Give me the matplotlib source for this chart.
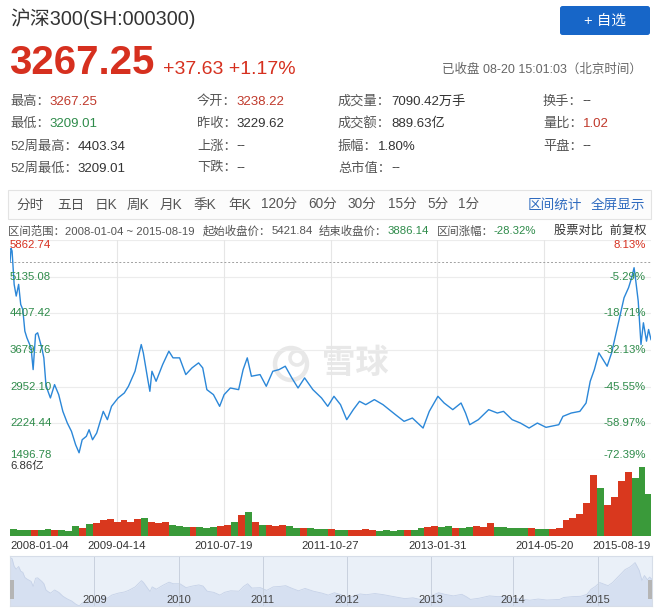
import numpy as np
import matplotlib.pyplot as plt
from matplotlib.patches import Rectangle, FancyBboxPatch, Circle
from matplotlib.transforms import IdentityTransform

plt.rcParams['font.family'] = ['Liberation Sans', 'Noto Sans CJK SC', 'DejaVu Sans']

W, H = 662, 611

# ---- quote header ----
name = "沪深300(SH:000300)"
last_price = "3267.25"
change = "+37.63 +1.17%"
status = "已收盘 08-20 15:01:03（北京时间）"

stat_labels = [["最高：", "最低：", "52周最高：", "52周最低："],
               ["今开：", "昨收：", "上涨：", "下跌："],
               ["成交量：", "成交额：", "振幅：", "总市值："],
               ["换手：", "量比：", "平盘："]]
stat_values = [["3267.25", "3209.01", "4403.34", "3209.01"],
               ["3238.22", "3229.62", "--", "--"],
               ["7090.42万手", "889.63亿", "1.80%", "--"],
               ["--", "1.02", "--"]]
stat_tone = [["up", "down", "", ""],
             ["up", "", "", ""],
             ["", "", "", ""],
             ["", "up", ""]]

periods = ["分时", "五日", "日K", "周K", "月K", "季K", "年K",
           "120分", "60分", "30分", "15分", "5分", "1分"]

range_start = "2008-01-04"
range_end = "2015-08-19"
start_close = 5421.84
end_close = 3886.14

# ---- daily close (trading-day index, close) ----
day = [0, 3, 6, 12, 18, 25, 31, 37, 43, 49, 61, 67, 74, 80, 92, 98, 104, 110,
       117, 129, 141, 153, 166, 178, 190, 200, 209, 221, 229, 239, 251, 270,
       282, 294, 313, 331, 343, 362, 380, 386, 399, 405, 411, 423, 442, 460,
       472, 491, 509, 527, 546, 558, 570, 589, 607, 620, 638, 662, 675, 687,
       699, 724, 742, 761, 779, 797, 816, 834, 853, 877, 902, 920, 938, 957,
       975, 994, 1012, 1030, 1055, 1080, 1098, 1116, 1141, 1165, 1196, 1214,
       1239, 1257, 1282, 1306, 1319, 1331, 1356, 1386, 1411, 1429, 1454, 1478,
       1503, 1527, 1552, 1589, 1601, 1625, 1650, 1668, 1680, 1692, 1705, 1717,
       1729, 1742, 1754, 1766, 1778, 1791, 1800, 1807, 1812, 1819, 1827, 1834,
       1843, 1849, 1856]
close = [5421.84, 5697, 5645, 4982, 4750, 4982, 4584, 4485, 4054, 3921, 3722,
         3291, 3988, 4021, 3722, 3524, 2993, 2860, 2728, 2993, 2794, 2462,
         2230, 2065, 1800, 1640, 1899, 1966, 2098, 1899, 2032, 2462, 2297,
         2562, 2728, 2827, 2960, 3258, 3788, 3623, 3092, 2860, 3258, 3059,
         3391, 3656, 3524, 3524, 3192, 3325, 3424, 3325, 2893, 2794, 2562,
         2794, 2926, 2893, 3291, 3524, 3159, 3192, 2960, 3258, 3291, 3358,
         3126, 2926, 3126, 2893, 2728, 2562, 2761, 2595, 2297, 2496, 2661,
         2595, 2695, 2595, 2496, 2397, 2264, 2330, 2131, 2462, 2761, 2628,
         2496, 2628, 2429, 2197, 2297, 2496, 2429, 2462, 2297, 2230, 2131,
         2230, 2145, 2197, 2363, 2429, 2462, 2628, 3059, 3291, 3623, 3491,
         3358, 3623, 3988, 4352, 4717, 4916, 5114, 5313, 5048, 4650, 3788,
         4220, 3855, 4087, 3886.14]

# volume (亿), one value per 20 trading days
volume = [0.6, 0.55, 0.5, 0.55, 0.5, 0.6, 0.55, 0.5, 0.45, 0.9, 0.7, 1.1, 1.2,
          1.4, 1.5, 1.3, 1.4, 1.3, 1.5, 1.6, 1.3, 1.2, 1.3, 1.0, 0.9, 0.85,
          0.8, 0.8, 0.75, 0.8, 0.9, 1.0, 1.3, 1.9, 2.2, 1.3, 1.0, 0.95, 0.9,
          1.0, 0.9, 0.75, 0.7, 0.7, 0.65, 0.65, 0.6, 0.5, 0.5, 0.55, 0.5, 0.6,
          0.5, 0.45, 0.5, 0.45, 0.5, 0.55, 0.5, 0.7, 0.85, 0.9, 0.8, 0.9, 0.7,
          0.75, 0.8, 0.9, 0.85, 1.2, 0.8, 0.85, 0.75, 0.7, 0.75, 0.7, 0.65,
          0.6, 0.6, 0.7, 1.4, 1.6, 2.0, 3.0, 5.5, 4.3, 2.8, 3.5, 5.0, 5.8, 5.2,
          6.2, 3.8]
vol_max = 6.86

price_low, price_high = 1496.78, 5862.74
date_ticks = ["2008-01-04", "2009-04-14", "2010-07-19", "2011-10-27",
              "2013-01-31", "2014-05-20", "2015-08-19"]
years = ["2009", "2010", "2011", "2012", "2013", "2014", "2015"]
year_day = [244, 488, 730, 974, 1217, 1455, 1700]

RED = '#d6301f'
DRED = '#c0392b'
GREEN = '#2e8b4a'
BLUE = '#2b87d8'
GRAY = '#555555'
DARK = '#333333'

fig = plt.figure(figsize=(W / 100, H / 100), dpi=100)
renderer = fig.canvas.get_renderer()


def fpos(x, y):
    return x / W, 1 - y / H


def run_text(x, y, parts, size, **kw):
    for s, c in parts:
        t = fig.text(*fpos(x, y), s, color=c, fontsize=size, va='center', ha='left', **kw)
        x += t.get_window_extent(renderer=renderer).width
    return x


# header
fig.text(*fpos(10, 19), name, fontsize=14.3, color=DARK, va='center')
fig.text(*fpos(9, 63), last_price, fontsize=29, color=RED, fontweight='bold', va='center')
fig.text(*fpos(163, 69), change, fontsize=14, color=RED, va='center')
fig.patches.append(FancyBboxPatch(fpos(560, 35), 90 / W, 29 / H,
                                  boxstyle='round,pad=0,rounding_size=0.004',
                                  transform=fig.transFigure, fc='#1766c8', ec='none'))
fig.text(*fpos(605, 21), "+ 自选", fontsize=10.5, color='white', ha='center', va='center')
fig.text(*fpos(642, 70), status, fontsize=9, color='#666666', ha='right', va='center')

# stats grid
col_x = [10, 197, 338, 543]
row_y = [101.5, 124, 146.5, 168.5]
tone_color = {"up": DRED, "down": GREEN, "": DARK}
for ci, (labs, vals, tones) in enumerate(zip(stat_labels, stat_values, stat_tone)):
    for ri, (lab, val, tone) in enumerate(zip(labs, vals, tones)):
        run_text(col_x[ci], row_y[ri], [(lab, GRAY), (val, tone_color[tone])], 9.5)

# toolbar
fig.patches.append(Rectangle(fpos(8, 219), 643 / W, 29 / H, transform=fig.transFigure,
                             fc='#fcfcfc', ec='#e3e3e3', lw=0.8))
period_x = [16, 57, 95, 127, 160, 193, 228, 261, 308, 347, 388, 427, 458]
for px_, lab in zip(period_x, periods):
    fig.text(*fpos(px_, 205), lab, fontsize=9.8, color=GRAY, va='center')
fig.text(*fpos(528, 205), "区间统计", fontsize=9.8, color='#2f6bbf', va='center')
fig.text(*fpos(591, 205), "全屏显示", fontsize=9.8, color='#2f6bbf', va='center')

# range info line
pct = (end_close / start_close - 1) * 100
run_text(8, 231, [("区间范围：" + range_start + " ~ " + range_end, GRAY)], 8.2)
run_text(203, 231, [("起始收盘价：", GRAY), (f"{start_close:.2f}", GRAY)], 8.2)
run_text(319, 231, [("结束收盘价：", GRAY), (f"{end_close:.2f}", GREEN)], 8.2)
run_text(437, 231, [("区间涨幅：", GRAY), (f"{pct:.2f}%", GREEN)], 8.2)
fig.text(*fpos(646, 231), "股票对比  前复权", fontsize=8.8, color=DARK, ha='right', va='center')

# ---- main chart ----
n_days = day[-1]
xt = np.linspace(0, n_days, 7)

ax = fig.add_axes([10 / W, 1 - 460 / H, 641 / W, 220 / H])
ax.set_facecolor('none')
ax.set_zorder(2)
ax.set_xlim(0, n_days)
ax.set_ylim(price_low, price_high)
yt = np.linspace(price_low, price_high, 7)
for v in yt:
    ax.axhline(v, color='#ececec', lw=0.8, zorder=0)
for v in xt[1:-1]:
    ax.axvline(v, color='#e6e6e6', lw=0.8, zorder=0)
ax.axhline(start_close, color='#a0a0a0', lw=0.7, ls=(0, (2, 2)), zorder=1)
ax.plot(day, close, color=BLUE, lw=1.0, zorder=3)
for spine in ax.spines.values():
    spine.set_visible(False)
ax.set_xticks([])
ax.set_yticks([])

for i, v in enumerate(yt):
    va = 'top' if i == 6 else ('bottom' if i == 0 else 'center')
    col = RED if i == 6 else GREEN
    ax.text(0.0, v, f"{v:.2f}", transform=ax.get_yaxis_transform(), fontsize=8.2,
            color=col, ha='left', va=va, zorder=4)
    ax.text(0.992, v, f"{(v / start_close - 1) * 100:.2f}%", transform=ax.get_yaxis_transform(),
            fontsize=8.2, color=col, ha='right', va=va, zorder=4)

# watermark
fig.patches.append(Circle((291, H - 364), 16, transform=IdentityTransform(),
                          fill=False, ec='#e8e8e8', lw=3.2, zorder=0))
fig.patches.append(Circle((297, H - 358), 7, transform=IdentityTransform(),
                          fill=False, ec='#e8e8e8', lw=2.6, zorder=0))
fig.text(*fpos(355, 364), "雪球", fontsize=24, color='#e8e8e8', ha='center', va='center',
         fontweight='bold', zorder=0)

# volume
axv = fig.add_axes([10 / W, 1 - 536 / H, 641 / W, 76 / H])
axv.set_facecolor('none')
axv.set_xlim(0, n_days)
axv.set_ylim(0, vol_max)
for v in xt[1:-1]:
    axv.axvline(v, color='#e6e6e6', lw=0.8, zorder=0)
bin_start = np.arange(len(volume)) * 20
bin_end = np.minimum(bin_start + 20, n_days)
up = np.interp(bin_end, day, close) >= np.interp(bin_start, day, close)
colors = np.where(up, '#d9381e', '#3a9a3a')
axv.bar(bin_start, volume, width=bin_end - bin_start, align='edge', color=colors, lw=0)
for spine in axv.spines.values():
    spine.set_visible(False)
axv.set_xticks([])
axv.set_yticks([])
fig.text(*fpos(10, 466), f"{vol_max:.2f}亿", fontsize=8.2, color=DARK, va='center')

for i, (v, lab) in enumerate(zip(xt, date_ticks)):
    ha = 'left' if i == 0 else ('right' if i == 6 else 'center')
    x_px = 10 + v / n_days * 641
    fig.text(*fpos(x_px, 546), lab, fontsize=8.2, color=DARK, ha=ha, va='center')

# navigator
axn = fig.add_axes([10 / W, 1 - 606 / H, 642 / W, 50 / H])
axn.set_facecolor('#eaf0f8')
axn.set_xlim(0, n_days)
axn.set_ylim(min(close), max(close) * 1.03)
axn.fill_between(day, close, min(close), color='#d6e0f1', lw=0)
axn.plot(day, close, color='#c6d2e8', lw=0.6)
for d, y in zip(year_day, years):
    axn.axvline(d, color='#c8d1de', lw=0.7)
    axn.text(d, 0.12, y, transform=axn.get_xaxis_transform(), fontsize=8, color='#444444',
             ha='center', va='center')
for spine in axn.spines.values():
    spine.set_color('#d6dde8')
axn.set_xticks([])
axn.set_yticks([])
fig.patches.append(Rectangle(fpos(10, 599), 4 / W, 19 / H, transform=fig.transFigure,
                             fc='#b5b5b5', ec='none'))
fig.patches.append(Rectangle(fpos(648, 599), 4 / W, 19 / H, transform=fig.transFigure,
                             fc='#b5b5b5', ec='none'))

fig.savefig('out.png', dpi=100)
